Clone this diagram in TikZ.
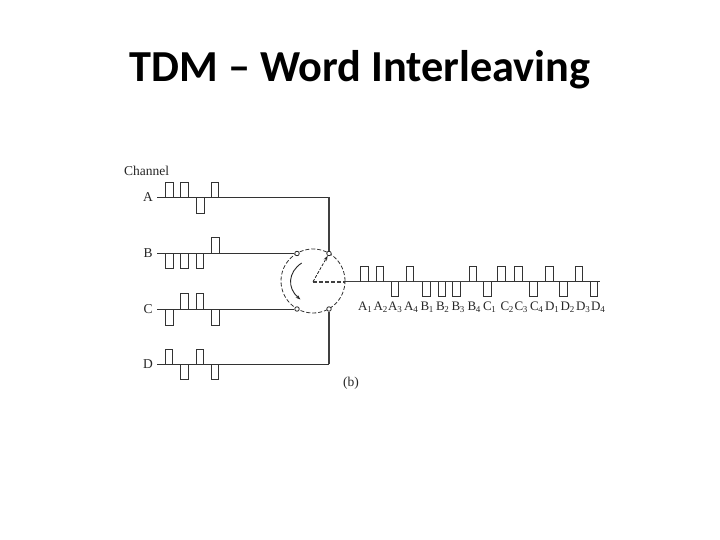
\documentclass[tikz,border=0pt]{standalone}
\usepackage{fontspec}
\setmainfont{Liberation Serif}
\newfontfamily\titlefont{Carlito}
\usetikzlibrary{arrows.meta}
\tikzset{
  sig/.style={draw=black!80,line width=0.9pt,line join=miter},
  lab/.style={inner sep=0pt,font=\fontsize{13.5}{14}\selectfont,text=black!85},
  sublab/.style={inner sep=0pt,anchor=base,font=\fontsize{13}{14}\selectfont,text=black!85},
  term/.style={circle,draw=black!85,fill=white,line width=0.8pt,inner sep=0pt,minimum size=4.5pt},
  trunk/.style={draw=black!75,line width=1.3pt},
  disc/.style={draw=black!80,line width=0.8pt,dash pattern=on 4pt off 2pt},
}
\newcommand{\pulses}[3]{%
  \foreach \xa/\xb/\d in {#2}{
    \draw[sig,#3] (\xa,#1) -- (\xa,#1+\d) -- (\xb,#1+\d) -- (\xb,#1);
  }}
\begin{document}
\begin{tikzpicture}[x=1pt,y=-1pt]
\useasboundingbox (0,0) rectangle (720,540);
\node[inner sep=0pt,font=\titlefont\bfseries\fontsize{44.3}{44}\selectfont] (title) at (360,69.5) {TDM – Word Interleaving};
\node[lab,anchor=west] (channel) at (124,170.5) {Channel};
\node[lab] (la) at (148,197) {A};
\node[lab] (lb) at (148,253.5) {B};
\node[lab] (lc) at (148,309) {C};
\node[lab] (ld) at (148,364.5) {D};
\node[lab] (lfig) at (351,383) {(b)};
% switch
\coordinate (hub) at (313,281);
\node[circle,disc,minimum size=64pt,inner sep=0pt] (ring) at (hub) {};
\node[term] (tb) at (297,253.5) {};
\node[term] (ta) at (329,253.5) {};
\node[term] (tc) at (297,309) {};
\node[term] (td) at (329,309) {};
\coordinate (sa) at (157,197.3);
\coordinate (sb) at (157,253.5);
\coordinate (sc) at (157,309);
\coordinate (sd) at (157,364.3);
\coordinate (ca) at (329,197.3);
\coordinate (cd) at (329,364.3);
\coordinate (outend) at (600,281.7);
\coordinate (outsolid) at (345,281.7);
% channel lines
\draw[sig] (sa) -- (ca);
\draw[trunk] (ca) -- (ta);
\draw[sig] (sb) -- (tb);
\draw[sig] (sc) -- (tc);
\draw[sig] (sd) -- (cd);
\draw[trunk] (cd) -- (td);
\pulses{197.3}{165/173/-15,180.5/188/-15,196/204/16,211/218.5/-15}{}
\pulses{253.5}{165.5/173/15,180.5/188/15,196/203.5/15,211.5/219/-16}{}
\pulses{309}{165.5/173/16,180.5/188/-16,196.5/203.5/-16,211.5/219/16}{}
\pulses{364.3}{165.5/172.5/-15,180.5/188/15,196.5/203.5/-15,211.5/218/15}{}
% output
\draw[trunk,line width=1.6pt,dash pattern=on 4pt off 2pt] (hub |- outsolid) -- (outsolid);
\draw[trunk] (outsolid) -- (490,281.7);
\draw[sig] (490,281.7) -- (outend);
\pulses{281.7}{360/368/-15,376/383/-15,391/398/15,406/413/-15,422/430/15,438/445/15,452.5/460/15,469/476/-15,483.5/491/15,497.5/505.5/-15,514/522/-15,529/537/15,545.5/553/-15,559.5/567/15,575/582.5/-15,590/597/15}{}
% rotor and rotation arrow
\draw[draw=black!85,line width=0.8pt,dash pattern=on 3pt off 1.5pt,-{Stealth[length=5pt,width=3.5pt]}] (hub |- outsolid) -- (ta);
\draw[draw=black!85,line width=0.9pt,-{Stealth[length=5pt,width=3.5pt]}] (301.7,263) .. controls (288,272) and (287,288) .. (300.5,299.5);
% labels
\foreach \t/\s/\x in {A/1/365,A/2/380.5,A/3/395,A/4/411,B/1/427,B/2/442.5,B/3/458,B/4/474,C/1/489.5,C/2/507,C/3/521,C/4/536.5,D/1/552,D/2/567.5,D/3/583,D/4/598}{
  \node[sublab] (o\t\s) at (\x,310) {\t\kern-0.3pt\raisebox{-2.5pt}{\fontsize{9}{9}\selectfont\s}};
}
\end{tikzpicture}
\end{document}
